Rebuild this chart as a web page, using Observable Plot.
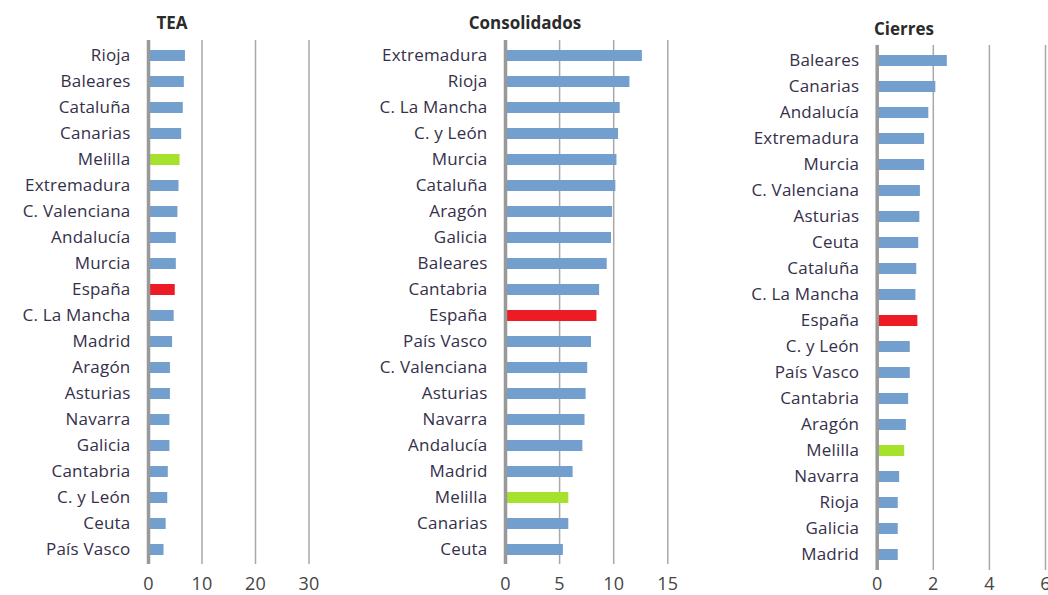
<!DOCTYPE html>
<html>
<head>
<meta charset="utf-8">
<script src="https://cdn.jsdelivr.net/npm/d3@7"></script>
<script src="https://cdn.jsdelivr.net/npm/@observablehq/plot@0.6"></script>
<style>
  html, body { margin: 0; padding: 0; background: #fff; width: 1048px; height: 595px; overflow: hidden; }
  #wrap { position: relative; width: 1048px; height: 595px; font-family: "Open Sans", sans-serif; }
  .panel { position: absolute; top: 0; }
  .title { position: absolute; font-weight: bold; font-size: 17px; color: #2b2b2b; font-family: "Open Sans", sans-serif; white-space: nowrap; }
  svg { overflow: visible; }
</style>
</head>
<body>
<div id="wrap"></div>
<script>
// ---- data ----
const teaRegions = ["Rioja","Baleares","Cataluña","Canarias","Melilla","Extremadura","C. Valenciana","Andalucía","Murcia","España","C. La Mancha","Madrid","Aragón","Asturias","Navarra","Galicia","Cantabria","C. y León","Ceuta","País Vasco"];
const teaValues  = [6.9, 6.7, 6.5, 6.2, 5.9, 5.7, 5.5, 5.2, 5.2, 5.0, 4.8, 4.5, 4.1, 4.1, 4.0, 4.0, 3.7, 3.6, 3.3, 2.9];
const teaTicks   = [0, 10, 20, 30];

const consRegions = ["Extremadura","Rioja","C. La Mancha","C. y León","Murcia","Cataluña","Aragón","Galicia","Baleares","Cantabria","España","País Vasco","C. Valenciana","Asturias","Navarra","Andalucía","Madrid","Melilla","Canarias","Ceuta"];
const consValues  = [12.65, 11.5, 10.6, 10.45, 10.3, 10.2, 9.9, 9.8, 9.4, 8.7, 8.45, 7.95, 7.6, 7.45, 7.35, 7.15, 6.25, 5.85, 5.85, 5.35];
const consTicks   = [0, 5, 10, 15];

const cierRegions = ["Baleares","Canarias","Andalucía","Extremadura","Murcia","C. Valenciana","Asturias","Ceuta","Cataluña","C. La Mancha","España","C. y León","País Vasco","Cantabria","Aragón","Melilla","Navarra","Rioja","Galicia","Madrid"];
const cierValues  = [2.5, 2.09, 1.84, 1.69, 1.69, 1.54, 1.52, 1.48, 1.41, 1.38, 1.45, 1.18, 1.18, 1.12, 1.04, 0.98, 0.8, 0.75, 0.75, 0.75];
const cierTicks   = [0, 2, 4, 6];

const titles = ["TEA", "Consolidados", "Cierres"];

// ---- styling ----
const BLUE = "#739fcf", RED = "#ed1c24", GREEN = "#a6e22c";
const colorOf = r => r === "España" ? RED : r === "Melilla" ? GREEN : BLUE;

function panel({regions, values, ticks, left, width, marginLeft, marginRight, marginTop, marginBottom, tickPadding}) {
  const data = regions.map((r, i) => ({region: r, value: values[i]}));
  const chart = Plot.plot({
    width, height: 595,
    marginLeft, marginRight, marginTop, marginBottom,
    style: {fontFamily: "'Open Sans', sans-serif", fontSize: "17px", color: "#333", background: "transparent", overflow: "visible", letterSpacing: "0.2px"},
    x: {domain: [ticks[0], ticks[ticks.length - 1]], ticks, grid: false, label: null},
    y: {domain: regions, label: null, paddingInner: 0.58, paddingOuter: 0.29},
    marks: [
      Plot.ruleX(ticks.slice(1), {stroke: "#a8a8a8", strokeWidth: 1.5, strokeOpacity: 1}),
      Plot.barX(data, {x: "value", y: "region", fill: d => colorOf(d.region)}),
      Plot.ruleX([0], {stroke: "#999", strokeWidth: 3.5}),
      Plot.axisY({tickSize: 0, tickPadding: 18, fontSize: 17, fill: "#35304a"}),
      Plot.axisX({ticks, tickSize: 0, tickPadding, fontSize: 18, fill: "#444", tickFormat: d3.format("d")})
    ]
  });
  chart.classList.add("panel");
  chart.style.left = left + "px";
  return chart;
}

const wrap = document.getElementById("wrap");
wrap.appendChild(panel({regions: teaRegions, values: teaValues, ticks: teaTicks, left: 0, width: 340, marginLeft: 148, marginRight: 31.5, marginTop: 40, marginBottom: 31, tickPadding: 13}));
wrap.appendChild(panel({regions: consRegions, values: consValues, ticks: consTicks, left: 340, width: 360, marginLeft: 165, marginRight: 32.7, marginTop: 40, marginBottom: 31, tickPadding: 13}));
wrap.appendChild(panel({regions: cierRegions, values: cierValues, ticks: cierTicks, left: 700, width: 348, marginLeft: 176.7, marginRight: 3, marginTop: 45, marginBottom: 25, tickPadding: 7}));

const titlePos = [{x: 172, y: 22}, {x: 525, y: 22}, {x: 904, y: 28}];
titles.forEach((t, i) => {
  const d = document.createElement("div");
  d.className = "title";
  d.textContent = t;
  d.style.left = titlePos[i].x + "px";
  d.style.top = titlePos[i].y + "px";
  d.style.transform = "translate(-50%, -50%)";
  wrap.appendChild(d);
});
</script>
</body>
</html>
